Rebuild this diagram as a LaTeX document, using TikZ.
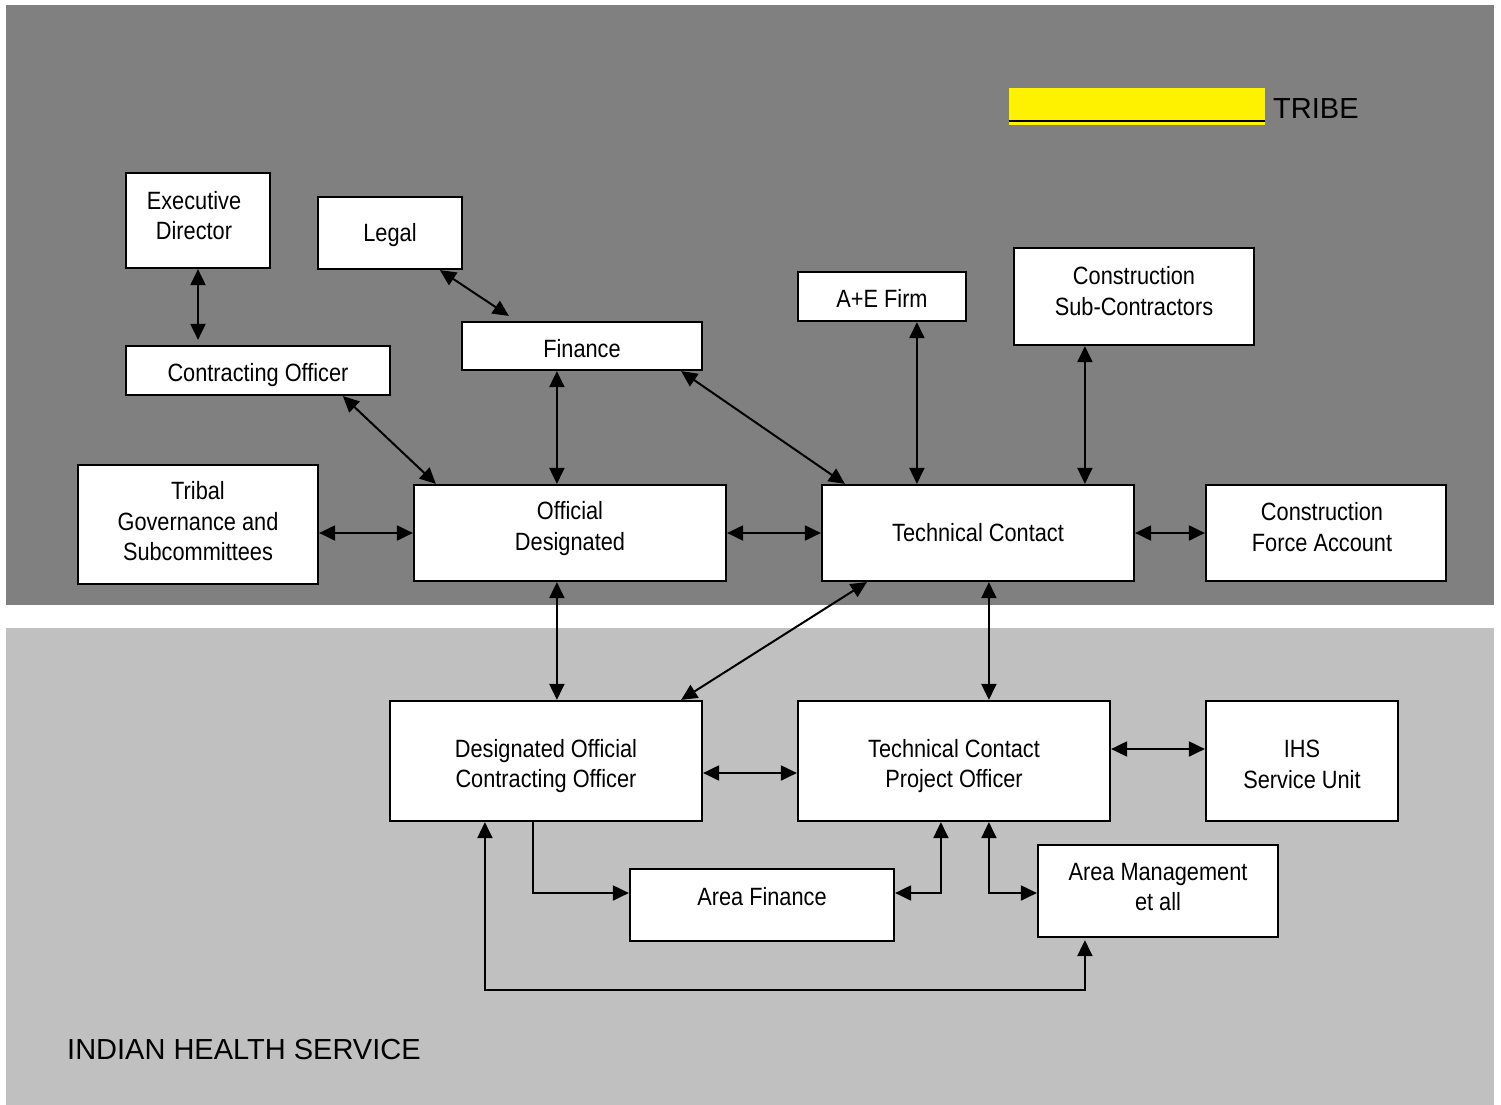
\documentclass[tikz,border=0pt]{standalone}
\usepackage{fontspec}
\setmainfont{Liberation Sans}
\newfontfamily\narrowfont[FakeStretch=0.87]{Liberation Sans}
\usetikzlibrary{arrows.meta,calc}
\definecolor{tribegray}{HTML}{808080}
\definecolor{ihsgray}{HTML}{C0C0C0}
\tikzset{
  box/.style={draw=black, line width=2.2pt, fill=white, inner sep=0pt, rectangle},
  lbl/.style={align=center, font=\narrowfont\fontsize{25}{30.5}\selectfont, inner sep=0pt},
  conn/.style={line width=2pt, {Triangle[length=16pt,width=15pt]}-{Triangle[length=16pt,width=15pt]}},
  conn1/.style={line width=2pt, -{Triangle[length=16pt,width=15pt]}},
  bigtxt/.style={font=\fontsize{29}{34}\selectfont, inner sep=0pt, anchor=base west}
}
\begin{document}
\begin{tikzpicture}[x=1pt,y=-1pt]
\useasboundingbox (0,0) rectangle (1501,1105);
\fill[white] (0,0) rectangle (1501,1105);
\fill[tribegray] (6,5) rectangle (1494,605);
\fill[ihsgray] (6,628) rectangle (1494,1105);

% key
\node[fill=yellow, inner sep=0pt, minimum width=256pt, minimum height=37pt] (key) at (1137,106.5) {};
\draw[line width=1.6pt] ($(key.south west)+(0,-4)$) -- ($(key.south east)+(0,-4)$);
\node[bigtxt] (tribe) at (1273,118) {TRIBE};
\node[bigtxt] (ihs-title) at (67,1059) {INDIAN HEALTH SERVICE};

% tribe boxes
\node[box, minimum width=144pt, minimum height=95pt, label={[lbl,xshift=-4pt,yshift=5pt]center:Executive\\Director}] (ed) at (198,220.5) {};
\node[box, minimum width=144pt, minimum height=72pt, label={[lbl,yshift=-2pt]center:Legal}] (legal) at (390,233) {};
\node[box, minimum width=264pt, minimum height=49pt, label={[lbl,yshift=-4.5pt]center:Contracting Officer}] (co) at (258,370.5) {};
\node[box, minimum width=240pt, minimum height=48pt, label={[lbl,yshift=-3pt]center:Finance}] (fin) at (582,346) {};
\node[box, minimum width=240pt, minimum height=119pt, label={[lbl,yshift=3pt]center:Tribal\\Governance and\\Subcommittees}] (trib) at (198,524.5) {};
\node[box, minimum width=312pt, minimum height=96pt, label={[lbl,yshift=4.5pt]center:Official\\Designated}] (od) at (570,533) {};
\node[box, minimum width=312pt, minimum height=96pt, label={[lbl]center:Technical Contact}] (tc) at (978,533) {};
\node[box, minimum width=240pt, minimum height=96pt, label={[lbl,xshift=-4pt,yshift=6pt]center:Construction\\Force Account}] (cfa) at (1326,533) {};
\node[box, minimum width=168pt, minimum height=49pt, label={[lbl,yshift=-2pt]center:A+E Firm}] (ae) at (882,296.5) {};
\node[box, minimum width=240pt, minimum height=97pt, label={[lbl,yshift=5.5pt]center:Construction\\Sub-Contractors}] (csc) at (1134,296.5) {};

% IHS boxes
\node[box, minimum width=312pt, minimum height=120pt, label={[lbl,yshift=-5pt]center:Designated Official\\Contracting Officer}] (doco) at (546,761) {};
\node[box, minimum width=312pt, minimum height=120pt, label={[lbl,yshift=-5pt]center:Technical Contact\\Project Officer}] (tcpo) at (954,761) {};
\node[box, minimum width=192pt, minimum height=120pt, label={[lbl,yshift=-3.5pt]center:IHS\\Service Unit}] (ihs) at (1302,761) {};
\node[box, minimum width=264pt, minimum height=72pt, label={[lbl,yshift=8pt]center:Area Finance}] (af) at (762,905) {};
\node[box, minimum width=240pt, minimum height=92pt, label={[lbl,yshift=4pt]center:Area Management\\et all}] (am) at (1158,891) {};

% connectors (tribe)
\draw[conn] (ed.south) -- ($(co.north -| ed.south)+(0,-5)$);
\draw[conn] ($(legal.south west)+(123,0)$) -- ($(fin.north west)+(48,-5)$);
\draw[conn] ($(co.south west)+(218,0)$) -- ($(od.north west)+(23,0)$);
\draw[conn] ($(fin.south west)+(96,0)$) -- ($(od.north west)+(144,0)$);
\draw[conn] ($(fin.south east)+(-22,0)$) -- ($(tc.north west)+(24,0)$);
\draw[conn] ($(ae.south west)+(120,0)$) -- ($(tc.north west)+(96,0)$);
\draw[conn] ($(csc.south west)+(72,0)$) -- ($(tc.north west)+(264,0)$);
\draw[conn] (od.west -| trib.east) -- (od.west);
\draw[conn] (od.east) -- (tc.west);
\draw[conn] (tc.east) -- (cfa.west);

% connectors (between / IHS)
\draw[conn] ($(od.south west)+(144,0)$) -- ($(doco.north west)+(168,0)$);
\draw[conn] ($(tc.south west)+(46,0)$) -- ($(doco.north east)+(-22,0)$);
\draw[conn] ($(tc.south west)+(168,0)$) -- ($(tcpo.north west)+(192,0)$);
\draw[conn] ($(doco.east)+(0,12)$) -- ($(tcpo.west)+(0,12)$);
\draw[conn] ($(tcpo.east)+(0,-12)$) -- ($(ihs.west)+(0,-12)$);
\draw[conn1] ($(doco.south west)+(144,0)$) |- ($(af.west)+(0,-12)$);
\draw[conn] ($(tcpo.south west)+(144,0)$) |- ($(af.east)+(0,-12)$);
\draw[conn] ($(tcpo.south west)+(192,0)$) |- ($(am.west)+(0,2)$);
\draw[conn] ($(am.south west)+(48,2)$) -- ++(0,50) -| ($(doco.south west)+(96,0)$);
\end{tikzpicture}
\end{document}
